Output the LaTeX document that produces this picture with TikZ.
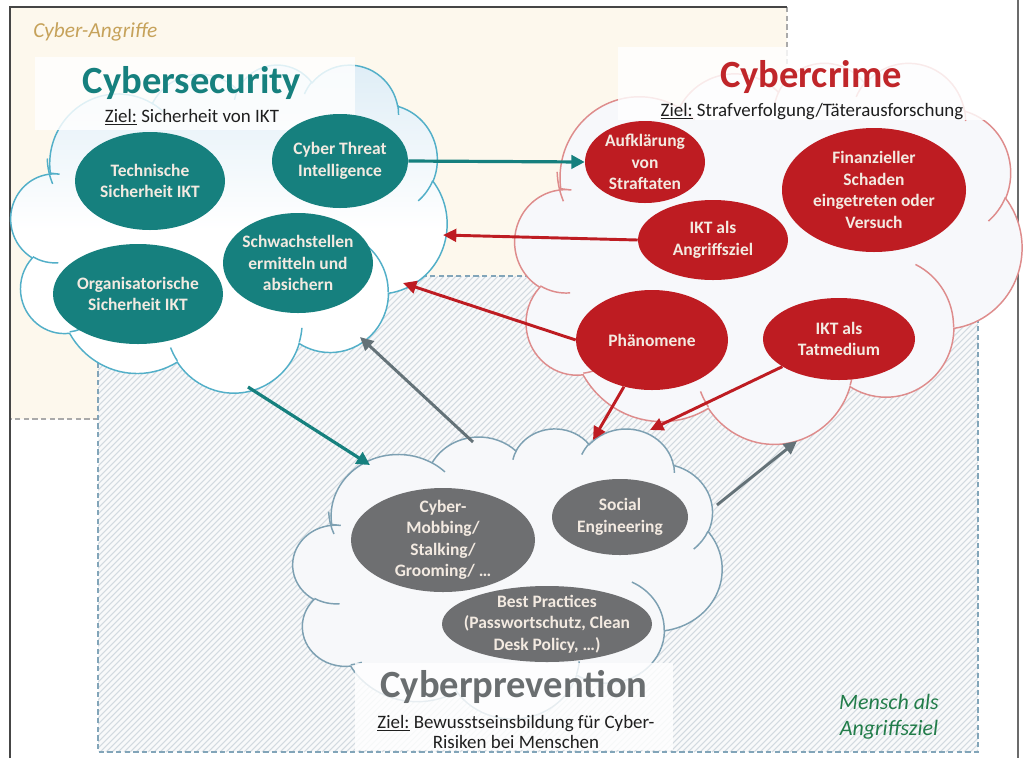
\documentclass[tikz,border=0pt]{standalone}
\usepackage{fontspec}
\setmainfont{Carlito}
\usetikzlibrary{shapes.geometric,arrows.meta,calc}

\definecolor{tealc}{RGB}{22,128,126}
\definecolor{redc}{RGB}{190,28,34}
\definecolor{grayc}{RGB}{110,111,113}
\definecolor{arrowgray}{RGB}{100,114,120}
\definecolor{beige}{RGB}{253,248,237}
\definecolor{hatchbg}{RGB}{248,249,250}
\definecolor{hatchln}{RGB}{210,218,224}
\definecolor{hatchborder}{RGB}{130,165,185}
\definecolor{beigeborder}{RGB}{170,170,170}
\definecolor{framedark}{RGB}{70,70,70}
\definecolor{secline}{RGB}{82,175,200}
\definecolor{secfill}{RGB}{222,237,246}
\definecolor{crimeline}{RGB}{222,140,140}
\definecolor{crimefill}{RGB}{247,248,251}
\definecolor{prevline}{RGB}{125,160,178}
\definecolor{prevfill}{RGB}{247,248,250}
\definecolor{ovaltext}{RGB}{243,234,225}
\definecolor{angriffe}{RGB}{198,162,90}
\definecolor{mensch}{RGB}{34,125,74}
\definecolor{titlered}{RGB}{192,38,42}
\definecolor{titlegray}{RGB}{106,110,112}

% one elliptical arc given by radii and visual start/sweep angles (degrees)
\newcommand\ooarc[4]{%
  let \n1={atan2(sin(#3)/#2,cos(#3)/#1)},
      \n2={atan2(sin(#3+#4)/#2,cos(#3+#4)/#1)},
      \n3={mod(\n2-(\n1)+720,360)}
  in arc[start angle=\n1, delta angle=\n3, x radius=#1, y radius=#2]}

% cloud outline in a 43.2 x 43.2 box
\newcommand\cloudpath{(3.900,14.370)
  \ooarc{6.753}{9.190}{-190.487}{123.781}
  \ooarc{5.333}{7.267}{-144.102}{89.945}
  \ooarc{4.365}{5.945}{-145.808}{99.723}
  \ooarc{4.857}{6.595}{-130.986}{117.242}
  \ooarc{5.333}{7.273}{-78.709}{109.027}
  \ooarc{6.775}{9.220}{-46.267}{130.269}
  \ooarc{5.785}{7.867}{0.625}{114.033}
  \ooarc{6.752}{9.215}{22.452}{115.173}
  \ooarc{7.720}{10.543}{66.243}{75.711}
  \ooarc{4.360}{5.918}{-274.942}{146.736}
  \ooarc{4.345}{5.945}{-246.829}{161.670} -- cycle}

% short inner strokes between the puffs
\newcommand\cloudinner{%
  (4.693,26.177) \ooarc{4.345}{5.945}{86.742}{26.430}
  (6.928,34.899) \ooarc{4.360}{5.918}{73.610}{11.447}
  (16.478,39.090) \ooarc{6.752}{9.215}{137.624}{14.081}
  (28.827,34.751) \ooarc{6.752}{9.215}{6.453}{15.998}
  (34.129,22.954) \ooarc{5.785}{7.867}{-70.292}{70.917}
  (41.798,15.354) \ooarc{5.333}{7.273}{30.318}{27.752}
  (38.324,5.426) \ooarc{4.857}{6.595}{-13.744}{14.859}
  (29.078,3.952) \ooarc{4.857}{6.595}{-149.181}{18.195}
  (22.141,4.720) \ooarc{4.365}{5.945}{-163.494}{17.686}
  (14.000,5.192) \ooarc{6.753}{9.190}{-66.707}{12.319}
  (4.127,15.789) \ooarc{6.753}{9.190}{150.000}{27.908}}

\tikzset{
  oval/.style={ellipse, inner sep=-12pt, text=ovaltext, align=center,
    font=\bfseries\fontsize{13.1}{16.1}\selectfont},
  tealoval/.style={oval, fill=tealc},
  redoval/.style={oval, fill=redc},
  grayoval/.style={oval, fill=grayc},
  title/.style={anchor=base, inner sep=0pt, font=\bfseries\fontsize{28.9}{34}\selectfont},
  goal/.style={anchor=base, inner sep=0pt, text=black!88, align=center,
    font=\fontsize{14.2}{15}\selectfont},
  areatext/.style={inner sep=0pt, align=center, font=\itshape\fontsize{16}{18.8}\selectfont},
  tealarrow/.style={draw=tealc, line width=2.4pt, -{Triangle[length=10pt,width=10pt]}},
  redarrow/.style={draw=redc, line width=2.2pt, -{Triangle[length=10pt,width=9.5pt]}},
  grayarrow/.style={draw=arrowgray, line width=2.2pt, -{Triangle[length=10pt,width=9.5pt]}},
  cloudedge/.style={line width=1.1pt},
  titlebox/.style={fill=white, opacity=0.82},
  areadash/.style={line width=1pt, dash pattern=on 4pt off 2.5pt}
}

\begin{document}
\begin{tikzpicture}[x=0.75pt, y=-0.75pt]
\useasboundingbox (0,0) rectangle (1025,758);
\fill[white] (0,0) rectangle (1025,758);

% area: cyber attacks
\fill[beige] (10,7) rectangle (787,419);
\draw[beigeborder, areadash] (787,7) -- (787,419) -- (10,419);

% area: humans as target (hatched)
\fill[hatchbg] (98,276) rectangle (978,752);
\begin{scope}
  \clip (98,276) rectangle (978,752);
  \foreach \a in {-380,-374,...,980}
    \draw[hatchln, line width=0.8pt] (\a,752) -- ++(476,-476);
\end{scope}
\draw[hatchborder, areadash] (98,276) rectangle (978,752);

% frame
\draw[framedark, line width=1.2pt] (10,758) -- (10,7) -- (787,7);
\draw[framedark!80, line width=1.5pt] (1018,0) -- (1018,758);

% cloud: Cybersecurity
\begin{scope}[shift={(11,64)}, x=7.569pt, y=-5.694pt]
  \path[draw=secline, cloudedge, top color=secfill, bottom color=white, middle color=white] \cloudpath;
  \path[draw=secline, cloudedge] \cloudinner;
\end{scope}
% cloud: Cybercrime
\begin{scope}[shift={(515,62)}, x=8.80pt, y=-6.615pt]
  \path[draw=crimeline, cloudedge, fill=crimefill] \cloudpath;
  \path[draw=crimeline, cloudedge] \cloudinner;
\end{scope}
% cloud: Cyberprevention
\begin{scope}[shift={(293,428)}, x=7.448pt, y=-5.035pt]
  \path[draw=prevline, cloudedge, fill=prevfill] \cloudpath;
  \path[draw=prevline, cloudedge] \cloudinner;
\end{scope}

% white panels behind the titles
\fill[titlebox] (35,57) rectangle (355,130);
\fill[titlebox] (618,47) rectangle (985,120);
\fill[titlebox] (355,663) rectangle (673,750);

% titles and goals
\node[title, text=tealc] (sectitle) at (192,93) {Cybersecurity};
\node[goal] (secgoal) at (192,122) {\underline{Ziel:} Sicherheit von IKT};
\node[title, text=titlered] (crimetitle) at (811,87) {Cybercrime};
\node[goal] (crimegoal) at (812,116) {\underline{Ziel:} Strafverfolgung/Täterausforschung};
\node[title, text=titlegray] (prevtitle) at (514,697) {Cyberprevention};
\node[goal, font=\fontsize{14.2}{15}\selectfont] (prevgoal) at (516,748)
  {\underline{Ziel:} Bewusstseinsbildung für Cyber-\\Risiken bei Menschen};
\node[areatext, text=angriffe, anchor=base west] (attacks) at (33,37) {Cyber-Angriffe};
\node[areatext, text=mensch, anchor=base, font=\itshape\fontsize{16.5}{18.8}\selectfont]
  (human) at (889,735) {Mensch als\\Angriffsziel};

% Cybersecurity topics
\node[tealoval, minimum width=112.5pt, minimum height=73.5pt] (tech) at (150,181) {Technische\\Sicherheit IKT};
\node[tealoval, minimum width=102pt, minimum height=70.5pt] (cti) at (340,161) {Cyber Threat\\Intelligence};
\node[tealoval, minimum width=112.5pt, minimum height=75pt] (schw) at (298,263) {Schwachstellen\\ermitteln und\\absichern};
\node[tealoval, minimum width=127.5pt, minimum height=75pt] (orga) at (138,294) {Organisatorische\\Sicherheit IKT};

% Cybercrime topics
\node[redoval, minimum width=90pt, minimum height=61.5pt] (auf) at (645,162) {Aufklärung\\von\\Straftaten};
\node[redoval, minimum width=138pt, minimum height=93pt] (fin) at (874,190) {Finanzieller\\Schaden\\eingetreten oder\\Versuch};
\node[redoval, minimum width=112.5pt, minimum height=60pt] (ikta) at (713,240) {IKT als\\Angriffsziel};
\node[redoval, minimum width=114pt, minimum height=75pt] (phae) at (652,340) {Phänomene};
\node[redoval, minimum width=114pt, minimum height=61.5pt] (iktt) at (839,339) {IKT als\\Tatmedium};

% Cyberprevention topics
\node[grayoval, minimum width=138pt, minimum height=78pt] (mob) at (443,540) {Cyber-\\Mobbing/\\Stalking/\\Grooming/ \dots};
\node[grayoval, minimum width=102pt, minimum height=57pt] (soc) at (620,517) {Social\\Engineering};
\node[grayoval, minimum width=157.5pt, minimum height=57pt] (best) at (547,624) {Best Practices\\(Passwortschutz, Clean\\Desk Policy, \dots)};

% connector ends on the cloud outlines
\coordinate (secout) at (248,387);
\coordinate (secinA) at (443,235);
\coordinate (secinB) at (403,283);
\coordinate (secinC) at (360,337);
\coordinate (previnA) at (370,465);
\coordinate (previnB) at (593,440);
\coordinate (previnC) at (650,430);
\coordinate (prevoutA) at (473,442);
\coordinate (prevoutB) at (717,505);
\coordinate (crimein) at (797,441);

% connectors
\draw[tealarrow] (cti.east) -- (auf.west);
\draw[tealarrow] (secout) -- (previnA);
\draw[redarrow] (ikta.west) -- (secinA);
\draw[redarrow] (phae.west) -- (secinB);
\draw[redarrow] (phae.239) -- (previnB);
\draw[redarrow] (iktt.206) -- (previnC);
\draw[grayarrow] (prevoutA) -- (secinC);
\draw[grayarrow] (prevoutB) -- (crimein);
\end{tikzpicture}
\end{document}
